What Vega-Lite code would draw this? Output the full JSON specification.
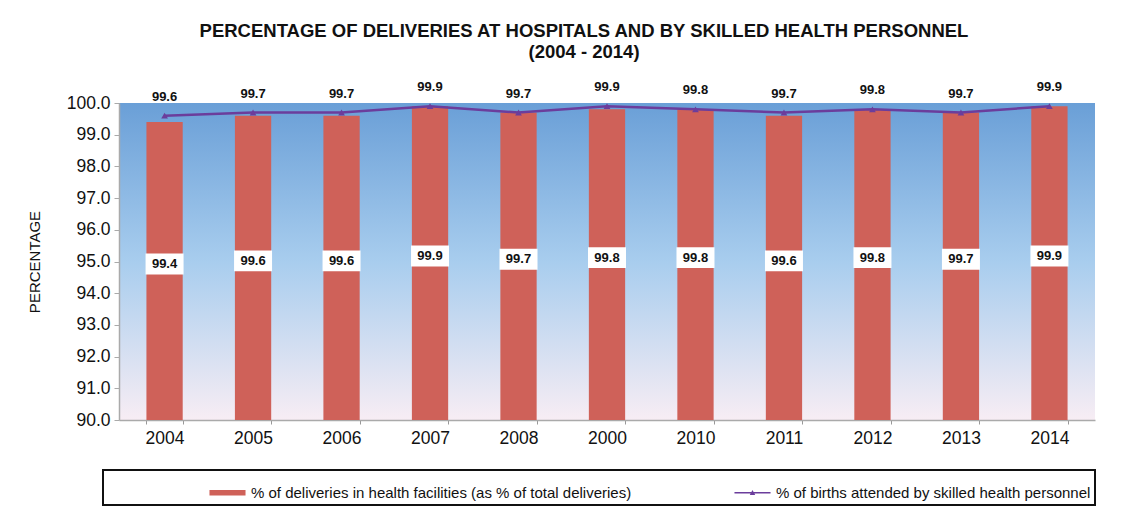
{
  "$schema": "https://vega.github.io/schema/vega-lite/v6.json",
  "width": 976,
  "height": 317,
  "autosize": {"type": "none"},
  "padding": {"left": 119, "top": 103, "right": 31, "bottom": 93},
  "background": "white",
  "config": {
    "font": "Liberation Sans"
  },
  "view": {
    "stroke": null,
    "fill": {
      "gradient": "linear", "x1": 0, "y1": 0, "x2": 0, "y2": 1,
      "stops": [
        {"offset": 0, "color": "#6a9fd7"},
        {"offset": 0.5, "color": "#a8cdee"},
        {"offset": 1, "color": "#f7edf4"}
      ]
    }
  },
  "title": {
    "text": ["PERCENTAGE OF DELIVERIES AT HOSPITALS AND BY SKILLED HEALTH PERSONNEL", "(2004 - 2014)"],
    "fontSize": 18.5,
    "font": "Liberation Sans",
    "fontWeight": "bold",
    "color": "#111111",
    "anchor": "middle",
    "dx": -23,
    "offset": 20,
    "lineHeight": 21
  },
  "data": {
    "values": [
      {"year": "2004", "facility": 99.4, "skilled": 99.6},
      {"year": "2005", "facility": 99.6, "skilled": 99.7},
      {"year": "2006", "facility": 99.6, "skilled": 99.7},
      {"year": "2007", "facility": 99.9, "skilled": 99.9},
      {"year": "2008", "facility": 99.7, "skilled": 99.7},
      {"year": "2000", "facility": 99.8, "skilled": 99.9},
      {"year": "2010", "facility": 99.8, "skilled": 99.8},
      {"year": "2011", "facility": 99.6, "skilled": 99.7},
      {"year": "2012", "facility": 99.8, "skilled": 99.8},
      {"year": "2013", "facility": 99.7, "skilled": 99.7},
      {"year": "2014", "facility": 99.9, "skilled": 99.9}
    ]
  },
  "encoding": {
    "x": {
      "field": "year", "type": "nominal", "sort": null,
      "scale": {"paddingInner": 0.59, "paddingOuter": 0.31},
      "axis": {
        "title": null, "labelAngle": 0, "labelFontSize": 17.5, "labelColor": "#111111",
        "labelPadding": 5, "tickSize": 4, "tickColor": "#999999", "tickBand": "extent",
        "domainColor": "#aaaaaa", "domainWidth": 1.5
      }
    }
  },
  "layer": [
    {
      "mark": {"type": "bar"},
      "encoding": {
        "y": {
          "field": "facility", "type": "quantitative",
          "scale": {"domain": [90, 100], "nice": false, "zero": false},
          "axis": {
            "title": "PERCENTAGE", "titleFontSize": 15, "titleFontWeight": "normal", "titleColor": "#111111",
            "titlePadding": 24, "tickCount": 11, "format": ".1f",
            "labelOverlap": false, "labelSeparation": 0, "labelBound": false, "labelFlush": false,
            "labelFontSize": 17.5, "labelColor": "#111111", "labelPadding": 4, "tickSize": 5,
            "tickColor": "#aaaaaa", "domainColor": "#aaaaaa", "domainWidth": 1.5, "grid": false
          }
        },
        "y2": {"datum": 90},
        "color": {
          "datum": "% of deliveries in health facilities (as % of total deliveries)",
          "scale": {
            "domain": ["% of deliveries in health facilities (as % of total deliveries)", "% of births attended by skilled health personnel"],
            "range": ["#cf6159", "#6b3d9c"]
          },
          "legend": {
            "orient": "none", "legendX": -16, "legendY": 367, "direction": "horizontal",
            "title": null, "symbolSize": 1300, "labelFontSize": 15, "labelColor": "#111111",
            "labelFont": "Liberation Sans", "labelLimit": 0, "strokeColor": "#111111", "padding": 4,
            "symbolOffset": 102, "columnPadding": -44, "labelOffset": 5,
            "encode": {
              "legend": {"update": {"strokeWidth": {"value": 2}}},
              "symbols": {
                "update": {
                  "shape": {"signal": "datum.index === 0 ? 'M-1,-0.15H1V0.15H-1Z' : 'M-1,-0.04H1V0.04H-1ZM-0.15,0.13L0,-0.15L0.15,0.13Z'"},
                  "fill": {"signal": "datum.index === 0 ? '#cf6159' : '#6b3d9c'"},
                  "strokeWidth": {"value": 0},
                  "opacity": {"value": 1}
                }
              }
            }
          }
        }
      }
    },
    {
      "mark": {"type": "line", "strokeWidth": 2.5, "point": {"shape": "triangle-up", "size": 45, "filled": true}},
      "encoding": {
        "y": {"field": "skilled", "type": "quantitative"},
        "color": {"datum": "% of births attended by skilled health personnel"}
      }
    },
    {
      "mark": {"type": "text", "fontWeight": "bold", "fontSize": 13, "dy": -19, "color": "#111111"},
      "encoding": {
        "y": {"field": "skilled", "type": "quantitative"},
        "text": {"field": "skilled", "type": "quantitative", "format": ".1f"}
      }
    },
    {
      "mark": {"type": "point", "shape": "M-1,-0.55H1V0.55H-1Z", "filled": true, "color": "white", "opacity": 1, "size": 1444},
      "encoding": {
        "y": {"datum": 94.92},
        "yOffset": {"field": "facility", "type": "quantitative", "scale": {"domain": [99.4, 99.9], "range": [0, -8], "zero": false, "nice": false}}
      }
    },
    {
      "mark": {"type": "text", "fontWeight": "bold", "fontSize": 13, "color": "#111111"},
      "encoding": {
        "y": {"datum": 94.92},
        "yOffset": {"field": "facility", "type": "quantitative", "scale": {"domain": [99.4, 99.9], "range": [0, -8], "zero": false, "nice": false}},
        "text": {"field": "facility", "type": "quantitative", "format": ".1f"}
      }
    }
  ]
}
